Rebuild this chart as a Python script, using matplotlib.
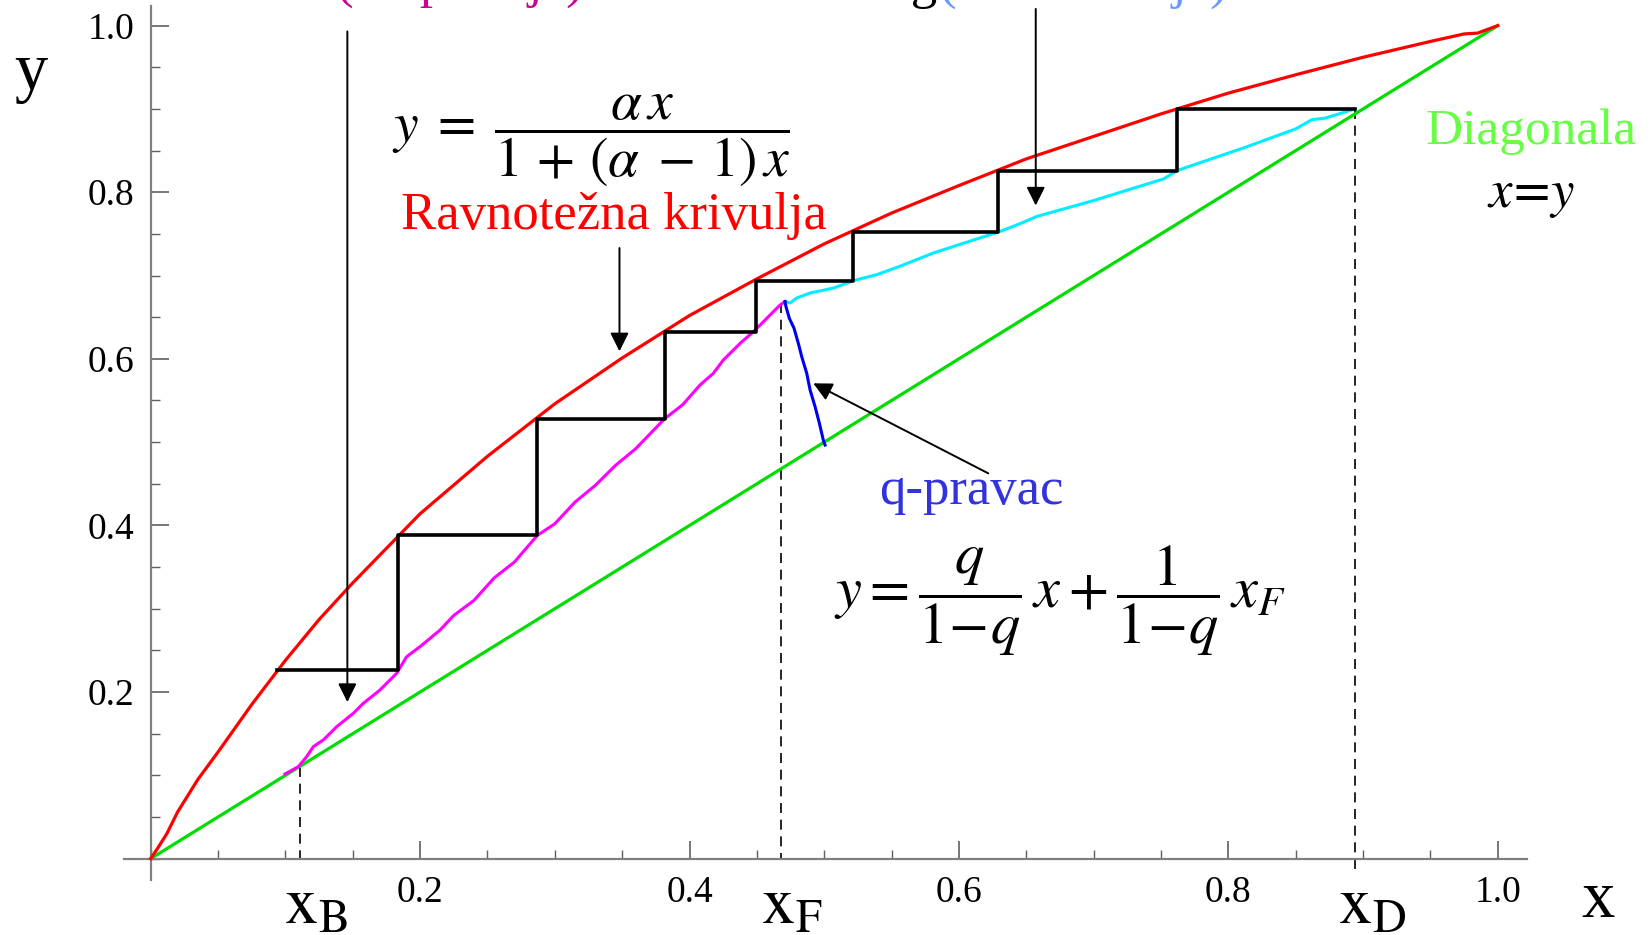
import matplotlib
matplotlib.use("Agg")
import matplotlib.pyplot as plt
from matplotlib.ticker import MultipleLocator

plt.rcParams["font.family"] = ["Liberation Serif", "DejaVu Serif"]
plt.rcParams["mathtext.fontset"] = "stix"

# equilibrium curve (red)
eq_x = [0.0, 0.005, 0.012, 0.02, 0.035, 0.05, 0.075, 0.1, 0.125, 0.15, 0.2, 0.25, 0.3, 0.35,
        0.4, 0.45, 0.5, 0.55, 0.6, 0.65, 0.7, 0.75, 0.8, 0.85, 0.9, 0.95, 0.975, 0.985, 1.0]
eq_y = [0.0, 0.012, 0.03, 0.056, 0.095, 0.128, 0.185, 0.238, 0.287, 0.331, 0.414, 0.483, 0.546, 0.601,
        0.652, 0.696, 0.738, 0.775, 0.808, 0.840, 0.867, 0.894, 0.919, 0.941, 0.962, 0.981, 0.990, 0.991, 1.0]

diag_x = [0.0, 1.0]
diag_y = [0.0, 1.0]

# stage construction (black steps)
step_x = [0.894, 0.762, 0.762, 0.629, 0.629, 0.5215, 0.5215, 0.449, 0.449, 0.3815, 0.3815,
          0.287, 0.287, 0.1837, 0.1837, 0.0938]
step_y = [0.900, 0.900, 0.826, 0.826, 0.752, 0.752, 0.694, 0.694, 0.632, 0.632, 0.528,
          0.528, 0.388, 0.388, 0.226, 0.226]

# rectifying operating line (cyan)
rect_x = [0.894, 0.872, 0.862, 0.850, 0.811, 0.780, 0.762, 0.752, 0.700, 0.658, 0.645, 0.629,
          0.600, 0.581, 0.556, 0.539, 0.522, 0.507, 0.4895, 0.4796, 0.4746, 0.4709]
rect_y = [0.900, 0.889, 0.887, 0.876, 0.853, 0.836, 0.826, 0.816, 0.790, 0.771, 0.762, 0.752,
          0.737, 0.727, 0.711, 0.701, 0.694, 0.685, 0.679, 0.673, 0.667, 0.669]

# stripping operating line (magenta)
strip_x = [0.0997, 0.1096, 0.1158, 0.1207, 0.1281, 0.1381, 0.1504, 0.1578, 0.1702, 0.1826, 0.19,
           0.1999, 0.2148, 0.225, 0.24, 0.255, 0.27, 0.287, 0.30, 0.315, 0.33, 0.345, 0.36, 0.3815,
           0.395, 0.4078, 0.4177, 0.4251, 0.4376, 0.4487, 0.4598, 0.4635, 0.4672, 0.4709]
strip_y = [0.1016, 0.1104, 0.1224, 0.1344, 0.1424, 0.1584, 0.1744, 0.1864, 0.2024, 0.2225, 0.2424,
           0.2544, 0.2744, 0.292, 0.31, 0.337, 0.356, 0.388, 0.402, 0.428, 0.448, 0.472, 0.492, 0.528,
           0.545, 0.5686, 0.5826, 0.5986, 0.6186, 0.6345, 0.6526, 0.6586, 0.6646, 0.6686]

# q-line (blue)
q_x = [0.4709, 0.4716, 0.4741, 0.4776, 0.4811, 0.4833, 0.4870, 0.4895, 0.4932, 0.4964, 0.4993, 0.5006]
q_y = [0.6686, 0.6626, 0.6486, 0.6366, 0.6166, 0.6025, 0.5826, 0.5626, 0.5425, 0.5226, 0.5025, 0.4965]

x_B, y_B = 0.111, 0.110
x_F, y_F = 0.468, 0.667
x_D, y_D = 0.894, 0.900

xticks = [0.2, 0.4, 0.6, 0.8, 1.0]
yticks = [0.2, 0.4, 0.6, 0.8, 1.0]

fig = plt.figure(figsize=(16.52, 9.35), dpi=100)
ax = fig.add_axes([0.0749, 0.0585, 0.8497, 0.9355])
ax.set_xlim(-0.02, 1.022)
ax.set_ylim(-0.026, 1.024)

for s in ["top", "right"]:
    ax.spines[s].set_visible(False)
for s in ["left", "bottom"]:
    ax.spines[s].set_position(("data", 0))
    ax.spines[s].set_color("#808080")
    ax.spines[s].set_linewidth(1.6)

ax.set_xticks(xticks)
ax.set_yticks(yticks)
ax.set_xticklabels([f"{t:.1f}" for t in xticks])
ax.set_yticklabels([f"{t:.1f}" for t in yticks])
ax.xaxis.set_minor_locator(MultipleLocator(0.05))
ax.yaxis.set_minor_locator(MultipleLocator(0.05))
ax.tick_params(which="major", direction="in", length=13, width=1.2, color="#606060",
               labelsize=27, pad=12)
ax.tick_params(which="minor", direction="in", length=6.5, width=1.0, color="#606060")

ax.plot(diag_x, diag_y, color="#00DD00", lw=2.3, zorder=2)
ax.plot(eq_x, eq_y, color="#FF0000", lw=2.3, zorder=3)
ax.plot(rect_x, rect_y, color="#00EEFF", lw=2.2, zorder=3)
ax.plot(strip_x, strip_y, color="#FF00FF", lw=2.2, zorder=3)
ax.plot(q_x, q_y, color="#0000EE", lw=2.2, zorder=3)
ax.plot(step_x, step_y, color="black", lw=2.6, zorder=4)

dash = dict(color="black", lw=1.2, ls=(0, (6, 4)), zorder=1)
ax.plot([x_B, x_B], [y_B, 0], **dash)
ax.plot([x_F, x_F], [y_F, 0], **dash)
ax.plot([x_D, x_D], [y_D, -0.012], **dash)

arr = dict(arrowstyle="-|>", mutation_scale=28, lw=1.4, color="black", shrinkA=0, shrinkB=0)
ax.annotate("", xy=(0.146, 0.188), xytext=(0.146, 0.993), arrowprops=arr, annotation_clip=False)
ax.annotate("", xy=(0.348, 0.609), xytext=(0.348, 0.733), arrowprops=arr)
ax.annotate("", xy=(0.657, 0.784), xytext=(0.657, 1.02), arrowprops=arr, annotation_clip=False)
ax.annotate("", xy=(0.4919, 0.5706), xytext=(0.6218, 0.4625), arrowprops=arr)

ax.text(0.327, 0.862, r"$y\;=\;\dfrac{\alpha\, x}{1\,+\,(\alpha\;-\,1)\,x}$", fontsize=40,
        ha="center", va="center")
ax.text(0.344, 0.771, "Ravnotežna krivulja", color="#FF0000", fontsize=38, ha="center", va="center")
ax.text(0.609, 0.441, "q-pravac", color="#3333DD", fontsize=38, ha="center", va="center")
ax.text(0.675, 0.31, r"$y=\dfrac{q}{1\!-\!q}\,x+\dfrac{1}{1\!-\!q}\,x_F$", fontsize=42,
        ha="center", va="center")
ax.text(1.0247, 0.872, "Diagonala", color="#66FF44", fontsize=37, ha="center", va="center",
        clip_on=False)
ax.text(1.0247, 0.795, r"$x\!=\!y$", fontsize=38, ha="center", va="center", clip_on=False)

ax.text(-0.089, 0.942, "y", fontsize=48, ha="center", va="center", clip_on=False)
ax.text(1.0744, -0.0497, "x", fontsize=48, ha="center", va="center", clip_on=False)
for xv, sub in [(0.1227, "B"), (0.476, "F"), (0.907, "D")]:
    ax.text(xv, -0.058, r"$\mathrm{x}_{\mathrm{%s}}$" % sub, fontsize=48, ha="center",
            va="center", clip_on=False)

# captions cut off by the top edge
fig.text(336 / 1652, 1.002, "(stripiranja)", color="#CC0099", fontsize=38, ha="left", va="baseline")
fig.text(937 / 1652, 1.002, "Pravac vršnog", color="black", fontsize=38, ha="right", va="baseline")
fig.text(939 / 1652, 1.002, "(rektifikacija)", color="#6699FF", fontsize=38, ha="left", va="baseline")

fig.savefig("out.png", dpi=100)
